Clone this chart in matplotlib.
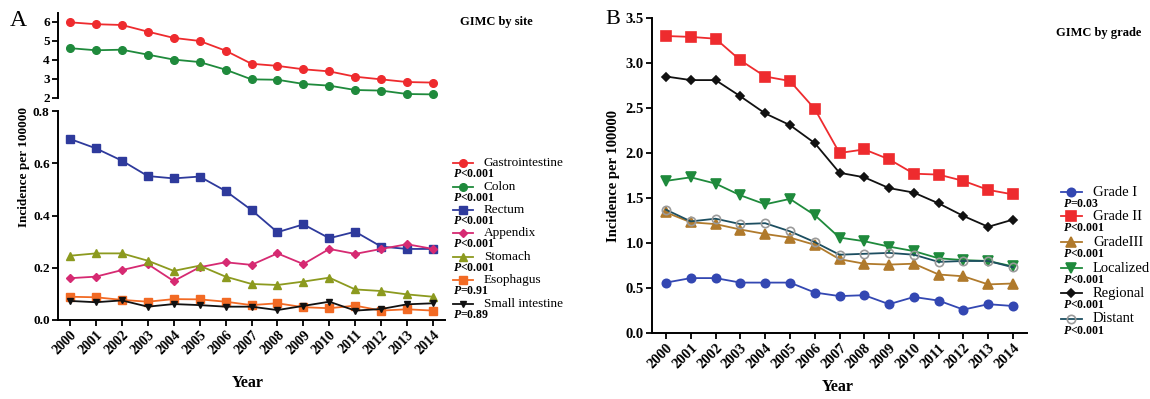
import matplotlib
matplotlib.use('Agg')
import matplotlib.pyplot as plt
from matplotlib.lines import Line2D

plt.rcParams['font.family'] = ['Liberation Serif', 'DejaVu Serif']
plt.rcParams['mathtext.fontset'] = 'custom'
plt.rcParams['mathtext.rm'] = 'Liberation Serif'
plt.rcParams['mathtext.bf'] = 'Liberation Serif:bold'
plt.rcParams['mathtext.it'] = 'Liberation Serif:italic'
plt.rcParams['mathtext.bfit'] = 'Liberation Serif:italic:bold'

# ---------------- data ----------------
years = list(range(2000, 2015))

# Panel A (by site)
gastro = [5.98, 5.88, 5.84, 5.49, 5.16, 5.00, 4.49, 3.80, 3.69, 3.51, 3.40, 3.12, 2.98, 2.84, 2.81]
colon = [4.62, 4.51, 4.54, 4.28, 4.02, 3.89, 3.49, 2.98, 2.96, 2.74, 2.65, 2.42, 2.39, 2.21, 2.19]
rectum = [0.693, 0.657, 0.610, 0.551, 0.542, 0.549, 0.494, 0.421, 0.336, 0.366, 0.313, 0.338, 0.281, 0.272, 0.272]
appendix = [0.160, 0.166, 0.191, 0.214, 0.149, 0.202, 0.221, 0.211, 0.255, 0.214, 0.272, 0.253, 0.272, 0.290, 0.272]
stomach = [0.246, 0.255, 0.255, 0.227, 0.188, 0.208, 0.166, 0.138, 0.134, 0.147, 0.162, 0.117, 0.111, 0.098, 0.089]
esophagus = [0.089, 0.087, 0.077, 0.070, 0.080, 0.079, 0.070, 0.057, 0.064, 0.049, 0.045, 0.055, 0.036, 0.041, 0.036]
small_int = [0.073, 0.068, 0.075, 0.051, 0.061, 0.057, 0.051, 0.051, 0.038, 0.054, 0.070, 0.036, 0.042, 0.060, 0.064]

site_labels = ['Gastrointestine', 'Colon', 'Rectum', 'Appendix', 'Stomach', 'Esophagus', 'Small intestine']
site_pvals = ['<0.001', '<0.001', '<0.001', '<0.001', '<0.001', '=0.91', '=0.89']

top_yticks = [2, 3, 4, 5, 6]
bot_yticks = [0.0, 0.2, 0.4, 0.6, 0.8]
bot_yticklabels = ['0.0', '0.2', '0.4', '0.6', '0.8']

# Panel B (by grade)
grade1 = [0.56, 0.61, 0.61, 0.56, 0.56, 0.56, 0.45, 0.41, 0.42, 0.32, 0.40, 0.36, 0.26, 0.32, 0.30]
grade2 = [3.30, 3.29, 3.27, 3.03, 2.85, 2.80, 2.49, 2.00, 2.04, 1.93, 1.77, 1.76, 1.69, 1.59, 1.54]
grade3 = [1.34, 1.23, 1.21, 1.15, 1.10, 1.06, 0.98, 0.82, 0.77, 0.76, 0.77, 0.65, 0.63, 0.54, 0.55]
localized = [1.69, 1.73, 1.66, 1.53, 1.43, 1.49, 1.31, 1.06, 1.02, 0.96, 0.91, 0.83, 0.81, 0.80, 0.74]
regional = [2.85, 2.81, 2.81, 2.63, 2.44, 2.31, 2.11, 1.78, 1.73, 1.61, 1.56, 1.44, 1.30, 1.18, 1.26]
distant = [1.37, 1.24, 1.27, 1.21, 1.22, 1.13, 1.01, 0.87, 0.88, 0.89, 0.87, 0.79, 0.80, 0.80, 0.73]

grade_labels = ['Grade I', 'Grade II', 'GradeIII', 'Localized', 'Regional', 'Distant']
grade_pvals = ['=0.03', '<0.001', '<0.001', '<0.001', '<0.001', '<0.001']

b_yticks = [0.0, 0.5, 1.0, 1.5, 2.0, 2.5, 3.0, 3.5]
b_yticklabels = ['0.0', '0.5', '1.0', '1.5', '2.0', '2.5', '3.0', '3.5']

# ---------------- styles ----------------
RED = '#EE2B2E'
GREEN = '#1F8A3C'
BLUE = '#2E3A9C'
PINK = '#D62A72'
OLIVE = '#8C9A1F'
ORANGE = '#F26A24'
BLACK = '#111111'
BLUE2 = '#3347B2'
BROWN = '#B07A2C'
TEAL = '#1C4E60'

W, H = 1150, 399
fig = plt.figure(figsize=(W / 100, H / 100), dpi=100)


def rect(x0, y0, x1, y1):
    return [x0 / W, 1 - y1 / H, (x1 - x0) / W, (y1 - y0) / H]


def fx(x):
    return x / W


def fy(y):
    return 1 - y / H


def style_axis(ax, fs):
    for s in ['top', 'right']:
        ax.spines[s].set_visible(False)
    for s in ['left', 'bottom']:
        ax.spines[s].set_linewidth(1.4)
    ax.tick_params(direction='out', length=4, width=1.3, labelsize=fs, pad=2)
    for lab in ax.get_yticklabels() + ax.get_xticklabels():
        lab.set_fontweight('bold')


LW = 1.3

# ---------- Panel A ----------
xl_a = (2000 - 12 / 25.93, 2014 + 12 / 25.93)
axt = fig.add_axes(rect(58, 13, 445, 98))
axb = fig.add_axes(rect(58, 111, 445, 320))

a_top = [(gastro, RED, 'o', 5.5, RED), (colon, GREEN, 'o', 5.5, GREEN)]
for vals, c, m, ms, mec in a_top:
    axt.plot(years, vals, color=c, marker=m, ms=ms, mec=mec, lw=LW, clip_on=False)
axt.set_xlim(*xl_a)
axt.set_ylim(2, 6.47)
axt.set_yticks(top_yticks)
axt.set_yticklabels([str(v) for v in top_yticks])
axt.spines['bottom'].set_visible(False)
axt.tick_params(axis='x', bottom=False, labelbottom=False)
style_axis(axt, 9.5)

a_bot = [(rectum, BLUE, 's', 6, BLUE),
         (appendix, PINK, 'D', 3.8, PINK),
         (stomach, OLIVE, '^', 6, OLIVE),
         (esophagus, ORANGE, 's', 6, ORANGE),
         (small_int, BLACK, 'v', 5, BLACK)]
for vals, c, m, ms, mec in a_bot:
    axb.plot(years, vals, color=c, marker=m, ms=ms, mec=mec, lw=LW, clip_on=False)
axb.set_xlim(*xl_a)
axb.set_ylim(0, 0.8)
axb.set_yticks(bot_yticks)
axb.set_yticklabels(bot_yticklabels)
axb.set_xticks(years)
axb.set_xticklabels([str(y) for y in years], rotation=45, ha='right', va='top',
                    rotation_mode='anchor')
style_axis(axb, 9.5)
axb.tick_params(axis='x', labelsize=10)

fig.text(fx(24), fy(167), 'Incidence per 100000', rotation=90, ha='center', va='center',
         fontsize=9.5, fontweight='bold')
fig.text(fx(248), fy(383), 'Year', ha='center', va='center', fontsize=11.5, fontweight='bold')
fig.text(fx(18), fy(20), 'A', ha='center', va='center', fontsize=17)
fig.text(fx(496), fy(22), 'GIMC by site', ha='center', va='center', fontsize=9,
         fontweight='bold')

# legend A
a_styles = [(RED, 'o', 5.5), (GREEN, 'o', 5.5), (BLUE, 's', 6), (PINK, 'D', 3.8),
            (OLIVE, '^', 6), (ORANGE, 's', 6), (BLACK, 'v', 5)]
leg_y_a = [163, 187, 210, 233, 257, 280, 304]
for (c, m, ms), lab, p, y in zip(a_styles, site_labels, site_pvals, leg_y_a):
    fig.add_artist(Line2D([fx(453), fx(463), fx(473)], [fy(y)] * 3, color=c, lw=LW,
                          marker=m, ms=ms, markevery=[1], transform=fig.transFigure))
    fig.text(fx(484), fy(y), lab, ha='left', va='center', fontsize=9.5)
    fig.text(fx(453), fy(y + 11), r'$\mathbfit{P}$' + p, ha='left', va='center',
             fontsize=8.5, fontweight='bold')

# ---------- Panel B ----------
xl_b = (2000 - 14 / 24.79, 2014 + 14 / 24.79)
ax2 = fig.add_axes(rect(652, 18, 1027, 333))
b_series = [(grade1, BLUE2, 'o', 6, BLUE2, BLUE2),
            (grade2, RED, 's', 6.5, RED, RED),
            (grade3, BROWN, '^', 6.5, BROWN, BROWN),
            (localized, GREEN, 'v', 6.5, GREEN, GREEN),
            (regional, BLACK, 'D', 3.8, BLACK, BLACK),
            (distant, TEAL, 'o', 6, '#9A9A9A', 'none')]
for vals, c, m, ms, mec, mfc in b_series:
    ax2.plot(years, vals, color=c, marker=m, ms=ms, mec=mec, mfc=mfc, mew=1.2, lw=LW,
             clip_on=False)
ax2.set_xlim(*xl_b)
ax2.set_ylim(0, 3.5)
ax2.set_yticks(b_yticks)
ax2.set_yticklabels(b_yticklabels)
ax2.set_xticks(years)
ax2.set_xticklabels([str(y) for y in years], rotation=45, ha='right', va='top',
                    rotation_mode='anchor')
style_axis(ax2, 10.5)
ax2.set_ylabel('Incidence per 100000', fontsize=10.5, fontweight='bold', labelpad=4)
fig.text(fx(838), fy(387), 'Year', ha='center', va='center', fontsize=11.5, fontweight='bold')
fig.text(fx(613), fy(20), 'B', ha='center', va='center', fontsize=16)
fig.text(fx(1099), fy(33), 'GIMC by grade', ha='center', va='center', fontsize=9,
         fontweight='bold')

leg_y_b = [192, 216, 242, 268, 293, 319]
for (vals, c, m, ms, mec, mfc), lab, p, y in zip(b_series, grade_labels, grade_pvals, leg_y_b):
    fig.add_artist(Line2D([fx(1061), fx(1071), fx(1082)], [fy(y)] * 3, color=c, lw=LW,
                          marker=m, ms=ms, mec=mec, mfc=mfc, mew=1.2, markevery=[1],
                          transform=fig.transFigure))
    fig.text(fx(1093), fy(y), lab, ha='left', va='center', fontsize=10.5)
    fig.text(fx(1063), fy(y + 12), r'$\mathbfit{P}$' + p, ha='left', va='center',
             fontsize=8.5, fontweight='bold')

fig.savefig('out.png', dpi=100)
